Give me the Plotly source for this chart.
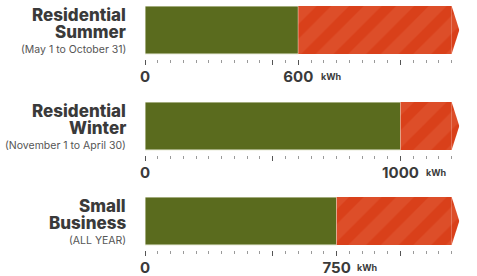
import plotly.graph_objects as go

# ---- data ----
titles = [["Residential", "Summer"], ["Residential", "Winter"], ["Small", "Business"]]
subtitles = ["(May 1 to October 31)", "(November 1 to April 30)", "(ALL YEAR)"]
values = [600, 1000, 750]          # kWh threshold (green part)
axis_max = 1200                    # end of the bar
tick_step = 50
major_ticks = [0, 500, 1000]
unit = "kWh"

# ---- style ----
W, H = 477, 276
GREEN = "#5a6b1e"
RED = "#d9401a"
STRIPE = "#e25c38"
TEXT = "#3a3a3a"
SUB = "#555555"
FONT = "Inter"
TIP = 30                            # arrow tip length in kWh
bar_tops = [6, 102, 197]            # px
bar_h = 48
gap = 5
x0_px, x1_px = 145, 459.3
label_right_px = 128
kwh_shift = [21, 23, 18]

fig = go.Figure()
layout_axes = {}
annotations = []
pat = dict(shape="/", fgcolor=STRIPE, size=23, solidity=0.55, fillmode="overlay")

for i, v in enumerate(values):
    n = i + 1
    xa = "x" if n == 1 else f"x{n}"
    ya = "y" if n == 1 else f"y{n}"
    top = bar_tops[i]
    axis_px = top + bar_h + gap
    # green part
    fig.add_trace(go.Bar(
        x=[v], y=[0], base=[0], orientation="h", width=1,
        marker=dict(color=GREEN, line=dict(color="#e9ecd9", width=1)),
        xaxis=xa, yaxis=ya, showlegend=False, hoverinfo="skip"))
    # red striped part
    fig.add_trace(go.Bar(
        x=[axis_max - v], y=[0], base=[v], orientation="h", width=1,
        marker=dict(color=RED, line=dict(width=0), pattern=pat),
        xaxis=xa, yaxis=ya, showlegend=False, hoverinfo="skip"))
    # arrow tip
    fig.add_trace(go.Scatter(
        x=[axis_max, axis_max + TIP, axis_max, axis_max],
        y=[0.5, 0, -0.5, 0.5],
        mode="lines", fill="toself", fillcolor=RED, line=dict(width=0),
        fillpattern=dict(pat, bgcolor=RED),
        xaxis=xa, yaxis=ya, showlegend=False, hoverinfo="skip"))

    tv = sorted(set(major_ticks + [v]))
    tt = [f"<b>{t}</b>" if t in (0, v) else "" for t in tv]
    key = "" if n == 1 else str(n)
    layout_axes[f"xaxis{key}"] = dict(
        domain=[x0_px / W, x1_px / W], range=[0, axis_max + TIP],
        anchor=ya, showgrid=False, zeroline=False, showline=False,
        tickmode="array", tickvals=tv, ticktext=tt,
        ticks="outside", ticklen=5, tickwidth=1, tickcolor="#555555",
        ticklabelstandoff=-1,
        tickfont=dict(family=FONT, size=15, color=TEXT),
        minor=dict(ticks="outside", dtick=tick_step, tick0=0, ticklen=3,
                   tickwidth=1, tickcolor="#9a9a9a", showgrid=False),
        fixedrange=True)
    layout_axes[f"yaxis{key}"] = dict(
        domain=[1 - axis_px / H, 1 - top / H],
        range=[-0.5 - gap / bar_h, 0.5], anchor=xa,
        visible=False, fixedrange=True)

    # kWh unit
    annotations.append(dict(
        xref=xa, yref="paper", x=v, y=1 - (axis_px + 17.5) / H,
        xanchor="left", yanchor="middle", xshift=kwh_shift[i],
        text=f"<b>{unit}</b>", showarrow=False,
        font=dict(family=FONT, size=9, color=TEXT)))
    # titles
    for j, line in enumerate(titles[i]):
        annotations.append(dict(
            xref="paper", yref="paper", x=label_right_px / W,
            y=1 - (top + 9 + 17 * j) / H,
            xanchor="right", yanchor="middle", text=line,
            showarrow=False, font=dict(family=FONT, size=17, color=TEXT, weight=800)))
    annotations.append(dict(
        xref="paper", yref="paper", x=label_right_px / W,
        y=1 - (top + 43) / H, xanchor="right", yanchor="middle",
        text=subtitles[i], showarrow=False,
        font=dict(family=FONT, size=10.5, color=SUB)))

fig.update_layout(
    width=W, height=H, margin=dict(l=0, r=0, t=0, b=0, autoexpand=False),
    paper_bgcolor="white", plot_bgcolor="white",
    barmode="overlay", annotations=annotations, **layout_axes)

fig.write_html("out.html", config={"displayModeBar": False},
               post_script="document.body.style.margin='0';")
